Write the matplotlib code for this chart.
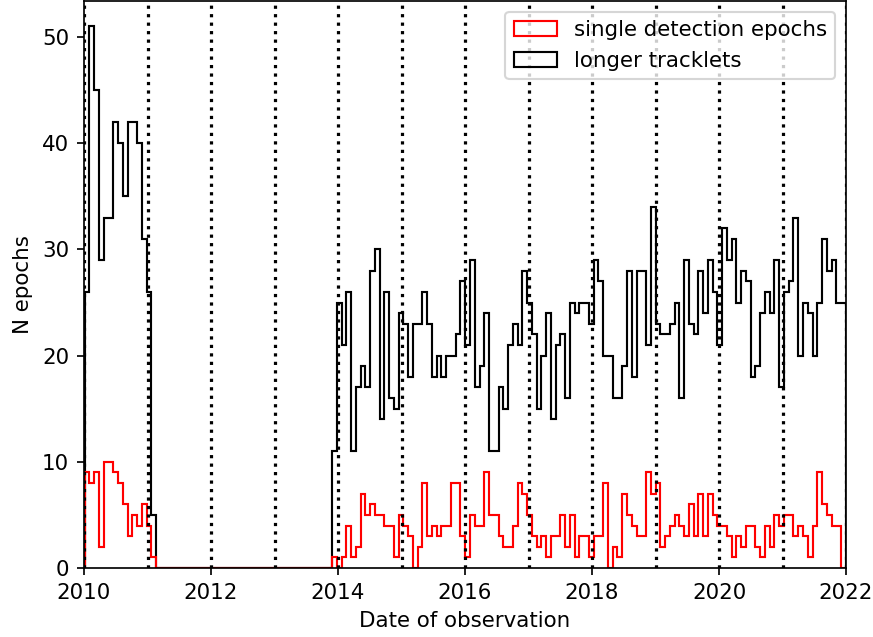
import numpy as np
import matplotlib.pyplot as plt

# bin range (decimal years) and number of bins
first_epoch = 2010.011
last_epoch = 2021.997
n_bins = 160

# counts per bin, 2010 block / empty years / 2014 onwards
tracklets_2010 = [26, 51, 45, 29, 33, 33, 42, 40, 35, 42, 42, 40, 31, 26, 5]
single_2010 = [9, 8, 9, 2, 10, 10, 9, 8, 6, 3, 5, 4, 6, 4, 1]
n_empty = 37

tracklets_late = [11, 25, 21, 26, 11, 17, 19, 17, 28, 30,
                  14, 26, 16, 15, 24, 23, 18, 23, 23, 26,
                  23, 18, 20, 18, 20, 20, 22, 27, 21, 29,
                  17, 19, 24, 11, 11, 17, 15, 21, 23, 21,
                  28, 25, 22, 15, 20, 24, 14, 21, 22, 16,
                  25, 24, 25, 25, 23, 29, 27, 20, 20, 16,
                  16, 19, 28, 18, 28, 28, 21, 34, 23, 22,
                  22, 23, 25, 16, 29, 23, 22, 28, 24, 29,
                  26, 21, 32, 29, 31, 25, 28, 27, 18, 19,
                  24, 26, 24, 29, 17, 26, 27, 33, 20, 25,
                  24, 20, 25, 31, 28, 29, 25, 25]
single_late = [1, 0, 1, 4, 1, 2, 7, 5, 6, 5,
               5, 4, 4, 1, 5, 4, 3, 0, 2, 8,
               3, 4, 3, 4, 4, 8, 8, 3, 1, 5,
               4, 4, 9, 5, 5, 3, 2, 2, 4, 8,
               7, 5, 3, 2, 3, 1, 3, 3, 5, 2,
               5, 1, 3, 3, 1, 3, 3, 8, 0, 2,
               1, 7, 5, 4, 3, 3, 9, 7, 8, 2,
               3, 4, 5, 4, 3, 6, 3, 7, 3, 7,
               5, 4, 4, 3, 1, 3, 2, 4, 4, 2,
               1, 4, 2, 5, 4, 5, 5, 3, 4, 3,
               1, 4, 9, 6, 5, 4, 4, 0]

year_lines = list(range(2010, 2023))

tracklet_counts = np.array(tracklets_2010 + [0] * n_empty + tracklets_late)
single_counts = np.array(single_2010 + [0] * n_empty + single_late)

edges = np.linspace(first_epoch, last_epoch, n_bins + 1)
centres = 0.5 * (edges[:-1] + edges[1:])

dpi = 153.6
fig = plt.figure(figsize=(873 / dpi, 637 / dpi), dpi=dpi)
ax = fig.add_axes([84 / 873, 69 / 637, 762 / 873, 567 / 637])

_, _, p_long = ax.hist(centres, bins=edges, weights=tracklet_counts,
                       histtype='step', color='k')
_, _, p_single = ax.hist(centres, bins=edges, weights=single_counts,
                         histtype='step', color='red')

for yr in year_lines:
    ax.axvline(yr, color='k', ls=':', lw=1.5)

ax.set_xlim(2010, 2022)
ax.set_ylim(0, 53.4)
ax.set_xlabel('Date of observation')
ax.set_ylabel('N epochs')
ax.legend([p_single[0], p_long[0]],
          ['single detection epochs', 'longer tracklets'], loc='upper right')

fig.savefig('out.png', dpi=dpi)
